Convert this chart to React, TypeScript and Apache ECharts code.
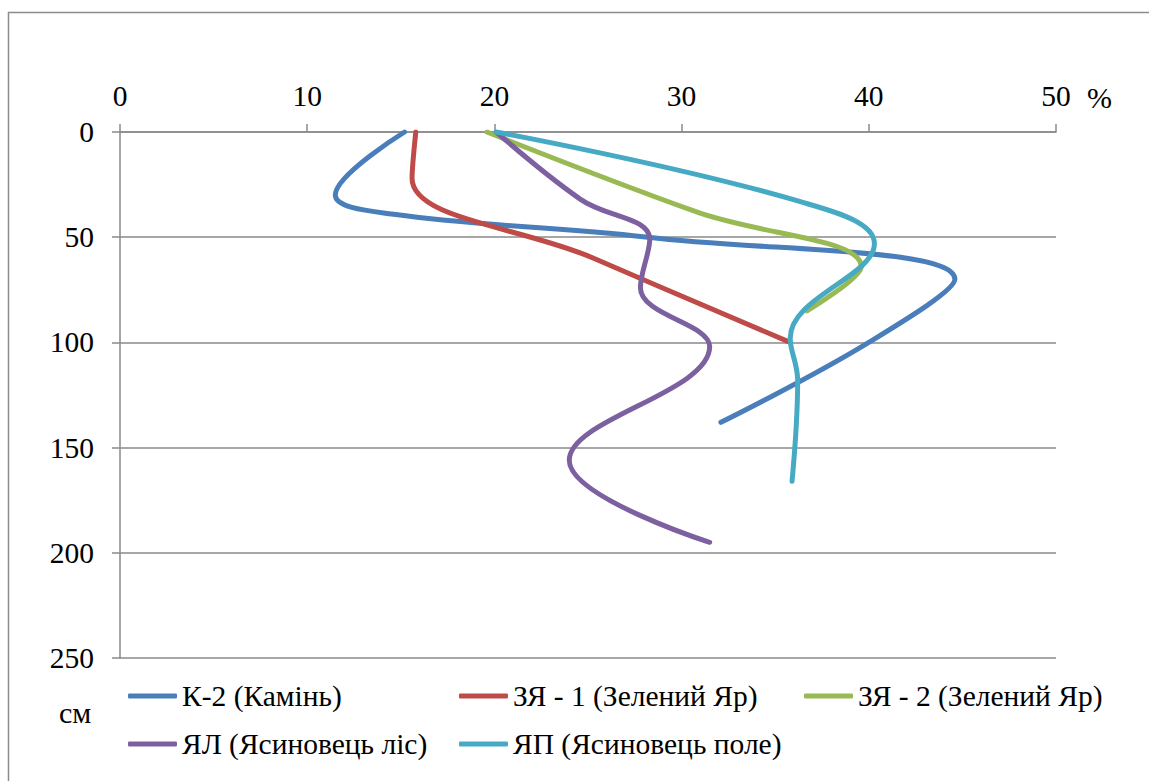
import React, { useEffect, useRef } from "react";
import * as echarts from "echarts";

// Moisture (%) by depth (cm) for each soil profile
const seriesNames = [
  "К-2 (Камінь)",
  "ЗЯ - 1 (Зелений Яр)",
  "ЗЯ - 2 (Зелений Яр)",
  "ЯЛ (Ясиновець ліс)",
  "ЯП (Ясиновець поле)",
];

const k2Pct = [15.2, 11.5, 14.5, 28.2, 44.6, 40.0, 32.1];
const k2Depth = [0, 30, 39, 50, 70, 100, 138];

const zy1Pct = [15.8, 15.6, 25.3, 35.8];
const zy1Depth = [0, 22, 60, 100];

const zy2Pct = [19.6, 30.8, 39.6, 36.7];
const zy2Depth = [0, 38, 64, 85];

const ylPct = [20.1, 24.6, 28.3, 27.8, 31.5, 24.0, 31.5];
const ylDepth = [0, 32, 51, 74, 102, 156, 195];

const ypPct = [20.1, 36.3, 40.3, 35.8, 36.2, 35.9];
const ypDepth = [0, 33, 53, 98, 118, 166];

const seriesColors = ["#4A7EBB", "#BE4B48", "#98B954", "#7D60A0", "#46AAC5"];

const pctMin = 0;
const pctMax = 50;
const pctStep = 10;
const depthMin = 0;
const depthMax = 250;
const depthStep = 50;

const FONT = "Liberation Serif";
const FONT_SIZE = 29.5;

function pairs(xs: number[], ys: number[]) {
  return xs.map((x, i) => [x, ys[i]]);
}

export default function App() {
  const ref = useRef<HTMLDivElement>(null);

  useEffect(() => {
    if (!ref.current) return;
    const chart = echarts.init(ref.current, null, { renderer: "svg" });

    const profiles = [
      pairs(k2Pct, k2Depth),
      pairs(zy1Pct, zy1Depth),
      pairs(zy2Pct, zy2Depth),
      pairs(ylPct, ylDepth),
      pairs(ypPct, ypDepth),
    ];

    const axisGray = "#8a8a8a";
    const legendText = { fontFamily: FONT, fontSize: FONT_SIZE, color: "#000", lineHeight: 32 };
    const legendBase = {
      orient: "vertical" as const,
      top: 680,
      padding: 0,
      itemGap: 16,
      itemWidth: 49,
      itemHeight: 5,
      icon: "roundRect",
      selectedMode: false,
      textStyle: legendText,
    };

    chart.setOption({
      animation: false,
      backgroundColor: "#fff",
      textStyle: { fontFamily: FONT },
      grid: { left: 120, top: 132, width: 936, height: 526, containLabel: false },
      xAxis: {
        type: "value",
        position: "top",
        min: pctMin,
        max: pctMax,
        interval: pctStep,
        axisLine: { show: true, lineStyle: { color: axisGray, width: 1.5 } },
        axisTick: { show: true, length: 8, lineStyle: { color: axisGray, width: 1.5 } },
        axisLabel: { margin: 21, fontFamily: FONT, fontSize: FONT_SIZE, color: "#000" },
        splitLine: { show: false },
      },
      yAxis: {
        type: "value",
        inverse: true,
        min: depthMin,
        max: depthMax,
        interval: depthStep,
        axisLine: { show: true, lineStyle: { color: axisGray, width: 1.5 } },
        axisTick: { show: true, length: 8, lineStyle: { color: axisGray, width: 1.5 } },
        axisLabel: { margin: 26, fontFamily: FONT, fontSize: FONT_SIZE, color: "#000" },
        splitLine: { show: true, lineStyle: { color: axisGray, width: 1.5 } },
      },
      legend: [
        { ...legendBase, left: 128, data: [seriesNames[0], seriesNames[3]] },
        { ...legendBase, left: 459, data: [seriesNames[1], seriesNames[4]] },
        { ...legendBase, left: 804, data: [seriesNames[2]] },
      ],
      graphic: [
        {
          type: "rect",
          silent: true,
          shape: { x: 8.5, y: 12.5, width: 1400, height: 1000 },
          style: { fill: "none", stroke: "#8c8c8c", lineWidth: 1.5 },
        },
        {
          type: "text",
          left: 1087,
          top: 82,
          style: { text: "%", fontFamily: FONT, fontSize: 30, fill: "#000" },
        },
        {
          type: "text",
          left: 59,
          top: 697,
          style: { text: "см", fontFamily: FONT, fontSize: 30, fill: "#000" },
        },
      ],
      series: profiles.map((data, i) => ({
        name: seriesNames[i],
        type: "line",
        data,
        smooth: 0.4,
        showSymbol: false,
        symbol: "none",
        color: seriesColors[i],
        lineStyle: { color: seriesColors[i], width: 5, cap: "round", join: "round" },
        emphasis: { disabled: true },
      })),
    });

    return () => chart.dispose();
  }, []);

  return (
    <div
      ref={ref}
      style={{ position: "fixed", left: 0, top: 0, width: 1149, height: 781 }}
    />
  );
}
